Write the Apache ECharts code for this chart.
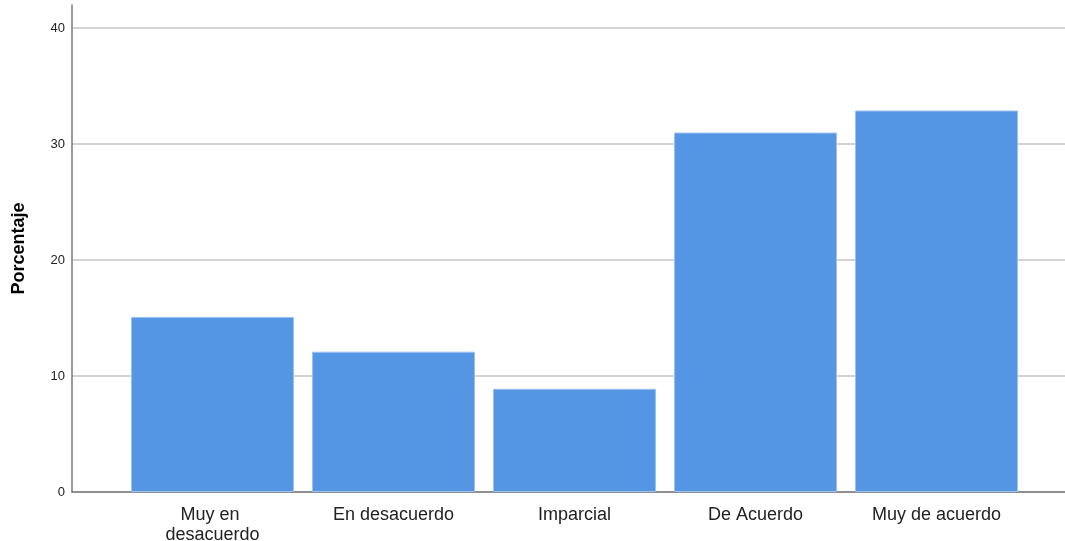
<!DOCTYPE html>
<html>
<head>
<meta charset="utf-8">
<script src="https://cdn.jsdelivr.net/npm/echarts@6/dist/echarts.min.js"></script>
<style>html,body{margin:0;padding:0;background:#fff;}#c{width:1065px;height:541px;}</style>
</head>
<body>
<div id="c"></div>
<script>
const categories = ["Muy en desacuerdo", "En desacuerdo", "Imparcial", "De Acuerdo", "Muy de acuerdo"];
const porcentaje = [15.1, 12.1, 8.9, 31.0, 32.9];
const yTicks = [0, 10, 20, 30, 40];
const yTitle = "Porcentaje";

const chart = echarts.init(document.getElementById('c'), null, {renderer: 'canvas'});
const yMax = 42;
chart.setOption({
  animation: false,
  backgroundColor: '#ffffff',
  grid: [
    {left: 72, right: 0, top: 5, bottom: 49, containLabel: false, outerBoundsMode: 'none'},
    {left: 122, width: 905, top: 5, bottom: 49, containLabel: false, outerBoundsMode: 'none'}
  ],
  xAxis: [
    {gridIndex: 0, type: 'value', min: 0, max: 1, show: true,
     axisLine: {show: true, onZero: false, lineStyle: {color: '#7a7a7a', width: 1.5}},
     axisTick: {show: false}, axisLabel: {show: false}, splitLine: {show: false}},
    {gridIndex: 1, type: 'category', data: categories,
     axisLine: {show: false}, axisTick: {show: false},
     axisLabel: {interval: 0, margin: 13, color: '#222', fontFamily: 'Liberation Sans, Arial, sans-serif',
       fontSize: 18, width: 140, overflow: 'break', lineHeight: 20}}
  ],
  yAxis: [
    {gridIndex: 0, type: 'value', min: 0, max: yMax, interval: 10,
     name: yTitle, nameLocation: 'middle', nameGap: 44, nameRotate: 90,
     nameTextStyle: {fontFamily: 'Liberation Sans, Arial, sans-serif', fontSize: 18, fontWeight: 'bold', color: '#000'},
     axisLine: {show: true, lineStyle: {color: '#7a7a7a', width: 1.5}},
     axisTick: {show: false},
     axisLabel: {margin: 7, color: '#222', fontFamily: 'Liberation Sans, Arial, sans-serif', fontSize: 13,
       showMaxLabel: false,
       formatter: v => yTicks.indexOf(v) >= 0 ? String(v) : ''},
     splitLine: {show: true, showMaxLine: false, lineStyle: {color: '#c4c4c4', width: 1.5}}},
    {gridIndex: 1, type: 'value', min: 0, max: yMax, show: false, splitLine: {show: false}}
  ],
  series: [{
    type: 'bar', xAxisIndex: 1, yAxisIndex: 1, data: porcentaje, barWidth: 163,
    itemStyle: {color: '#5596e4', borderColor: '#9cc2f0', borderWidth: 1}
  }]
});
</script>
</body>
</html>
